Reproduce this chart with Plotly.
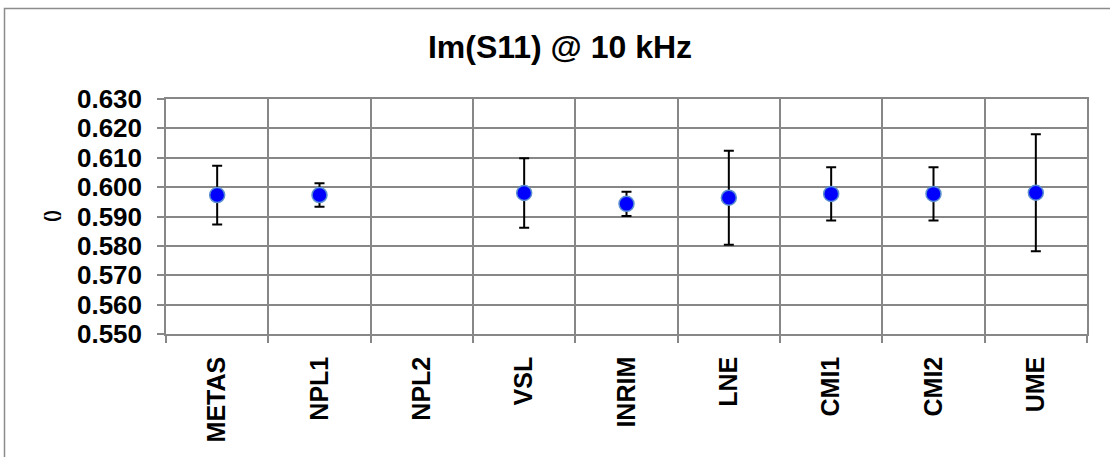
import plotly.graph_objects as go

categories = ["METAS", "NPL1", "NPL2", "VSL", "INRIM", "LNE", "CMI1", "CMI2", "UME"]
values = [0.5973, 0.5973, None, 0.5980, 0.5943, 0.5964, 0.5977, 0.5977, 0.5981]
uncertainties = [0.0100, 0.0040, None, 0.0118, 0.0041, 0.0160, 0.0091, 0.0091, 0.0199]
y_ticks = [0.550, 0.560, 0.570, 0.580, 0.590, 0.600, 0.610, 0.620, 0.630]
title_text = "Im(S11) @ 10 kHz"
y_title = "()"

FONT = "Arial, Liberation Sans, sans-serif"
GRID = "#878787"

fig = go.Figure()
fig.add_trace(go.Scatter(
    x=categories, y=values, mode="markers",
    marker=dict(size=15, color="#0000FF", line=dict(color="#5B8FD0", width=1.5)),
    error_y=dict(type="data", array=uncertainties, visible=True,
                 color="black", thickness=2, width=5),
    showlegend=False,
))

L, R, T, B = 166, 23, 99, 123
W, H = 1110, 457
pw = W - L - R
ph = H - T - B

fig.update_layout(
    width=W, height=H,
    margin=dict(l=L, r=R, t=T, b=B, pad=0),
    paper_bgcolor="white", plot_bgcolor="white",
    font=dict(family=FONT, color="black"),
    title=dict(text="<b>" + title_text + "</b>", x=560 / W, xanchor="center",
               y=1 - 47 / H, yanchor="middle", yref="container",
               font=dict(size=32, family=FONT, color="black")),
    xaxis=dict(type="category", categoryorder="array", categoryarray=categories,
               range=[-0.5, len(categories) - 0.5], tickson="boundaries",
               showgrid=True, gridcolor=GRID, gridwidth=1.5,
               showline=True, linecolor=GRID, linewidth=1.5, mirror=True,
               ticks="outside", ticklen=7, tickcolor=GRID, tickwidth=1.5,
               tickangle=-90, ticklabelstandoff=11,
               tickfont=dict(size=25, family=FONT, color="black", weight="bold"),
               zeroline=False),
    yaxis=dict(range=[0.550, 0.630], tickvals=y_ticks,
               ticktext=["%.3f" % v for v in y_ticks],
               showgrid=True, gridcolor=GRID, gridwidth=1.5,
               showline=True, linecolor=GRID, linewidth=1.5, mirror=True,
               ticks="outside", ticklen=7, tickcolor=GRID, tickwidth=1.5,
               ticklabelstandoff=10,
               tickfont=dict(size=26, family=FONT, color="black", weight="bold"),
               zeroline=False),
    shapes=[dict(type="rect", xref="paper", yref="paper",
                 x0=(4.5 - L) / pw, x1=(W + 10 - L) / pw,
                 y0=-(H + 10 - (H - B)) / ph, y1=(H - B - 8.5) / ph,
                 line=dict(color="#8C8C8C", width=1.5), fillcolor="rgba(0,0,0,0)",
                 layer="below")],
    annotations=[dict(text="<b>" + y_title + "</b>", xref="paper", yref="paper",
                      x=(51 - L) / pw, y=(H - B - 216) / ph, showarrow=False,
                      textangle=-90, xanchor="center", yanchor="middle",
                      font=dict(size=18, family=FONT, color="black"))],
)

fig.write_html("out.html", config={"displayModeBar": False},
               post_script="document.body.style.margin='0';document.body.style.overflow='hidden';")
